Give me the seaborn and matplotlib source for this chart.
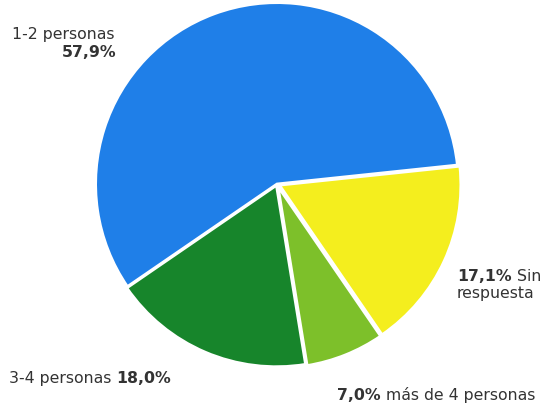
import matplotlib
matplotlib.use("Agg")
import matplotlib.pyplot as plt
import seaborn as sns

sns.set_theme(style="white")
plt.rcParams['font.family'] = ['DejaVu Sans']

categories = ["1-2 personas", "3-4 personas", "más de 4 personas", "Sin respuesta"]
values = [57.9, 18.0, 7.0, 17.1]
colors = ["#1F7FE8", "#17852B", "#7DC02A", "#F4EE1E"]

W, H = 549, 404
fig = plt.figure(figsize=(W / 100, H / 100), dpi=100)
fig.patch.set_facecolor("white")

cx, cy, r = 277, 184, 185
ax = fig.add_axes([(cx - r) / W, (H - cy - r) / H, 2 * r / W, 2 * r / H])
ax.pie(values, colors=colors, startangle=6, counterclock=True,
       explode=[0.0, 0.008, 0.015, 0.015],
       wedgeprops=dict(edgecolor="white", linewidth=2.0))
ax.set_xlim(-1.02, 1.02)
ax.set_ylim(-1.02, 1.02)
ax.set_aspect("equal")
ax.axis("off")

fig.canvas.draw()
renderer = fig.canvas.get_renderer()
TXT = "#333333"
FS = 11.3


def line(x_px, y_px, parts, ha="left"):
    """parts: list of (text, weight). x_px left (or right) edge, y_px baseline in image coords."""
    texts = []
    x = x_px
    for s, w in parts:
        t = fig.text(x / W, (H - y_px) / H, s, fontsize=FS, fontweight=w,
                     color=TXT, ha="left", va="baseline")
        bb = t.get_window_extent(renderer)
        x = bb.x1 + 5
        texts.append(t)
    if ha == "right":
        total = x - 5 - x_px
        for t in texts:
            px, py = t.get_position()
            t.set_position((px - total / W, py))


def pct(v):
    return f"{v:.1f}".replace(".", ",") + "%"


line(12, 39, [(categories[0], "normal")])
line(116, 57, [(pct(values[0]), "bold")], ha="right")
line(457, 281, [(pct(values[3]), "bold"), ("Sin", "normal")])
line(457, 298, [("respuesta", "normal")])
line(9, 383, [(categories[1], "normal"), (pct(values[1]), "bold")])
line(337, 400, [(pct(values[2]), "bold"), (categories[2], "normal")])

fig.savefig("out.png", dpi=100, facecolor="white")
